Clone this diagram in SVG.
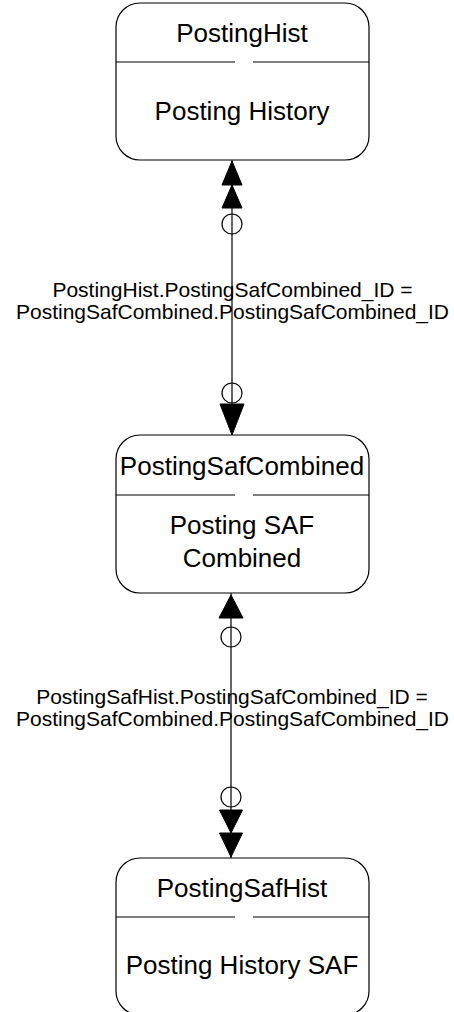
<svg xmlns="http://www.w3.org/2000/svg" width="454" height="1012" viewBox="0 0 454 1012">
<style>
.box{fill:#fff;stroke:#000;stroke-width:1.2}
.div{stroke:#000;stroke-width:1.2}
.t{font-family:"Liberation Sans",Arial,sans-serif;font-size:26px;fill:#000;text-anchor:middle}
.lbl{font-family:"Liberation Sans",Arial,sans-serif;font-size:21px;fill:#000;text-anchor:middle}
.ln{stroke:#000;stroke-width:1.2;fill:none}
.ah{fill:#000;stroke:#000;stroke-width:1}
.cr{fill:none;stroke:#000;stroke-width:1.2}
</style>
<rect width="454" height="1012" fill="#fff"/>
<g id="connectors">
<g id="c1">
<line class="ln" x1="232" y1="160" x2="232" y2="435"/>
<polygon class="ah" points="232,161 242,185 222,185"/>
<polygon class="ah" points="232,185 242,208 222,208"/>
<circle class="cr" cx="232" cy="224" r="10"/>
<circle class="cr" cx="232" cy="393" r="10"/>
<polygon class="ah" points="220,404 244,404 232,435"/>
<text class="lbl" x="232.5" y="297">PostingHist.PostingSafCombined_ID =</text>
<text class="lbl" x="232.5" y="319">PostingSafCombined.PostingSafCombined_ID</text>
</g>
<g id="c2">
<line class="ln" x1="231" y1="593" x2="231" y2="858"/>
<polygon class="ah" points="231,595 243,618 219,618"/>
<circle class="cr" cx="231" cy="637" r="10"/>
<circle class="cr" cx="231" cy="797" r="10"/>
<polygon class="ah" points="219.5,810 242.5,810 231,833"/>
<polygon class="ah" points="219.5,833 242.5,833 231,857"/>
<text class="lbl" x="232" y="704">PostingSafHist.PostingSafCombined_ID =</text>
<text class="lbl" x="232.5" y="726">PostingSafCombined.PostingSafCombined_ID</text>
</g>
</g>
<g id="PostingHist">
<rect class="box" x="116" y="3" width="253" height="157" rx="24" ry="24"/>
<line class="div" x1="116" y1="62" x2="235" y2="62"/>
<line class="div" x1="253" y1="62" x2="369" y2="62"/>
<text class="t" x="242" y="42">PostingHist</text>
<text class="t" x="242" y="120">Posting History</text>
</g>
<g id="PostingSafCombined">
<rect class="box" x="116" y="435" width="253" height="158" rx="24" ry="24"/>
<line class="div" x1="116" y1="495" x2="235" y2="495"/>
<line class="div" x1="253" y1="495" x2="369" y2="495"/>
<text class="t" x="242" y="475">PostingSafCombined</text>
<text class="t" x="242" y="534">Posting SAF</text>
<text class="t" x="242" y="567">Combined</text>
</g>
<g id="PostingSafHist">
<rect class="box" x="116" y="858" width="253" height="157" rx="24" ry="24"/>
<line class="div" x1="116" y1="917" x2="235" y2="917"/>
<line class="div" x1="253" y1="917" x2="369" y2="917"/>
<text class="t" x="242" y="897">PostingSafHist</text>
<text class="t" x="242" y="974">Posting History SAF</text>
</g>
</svg>
